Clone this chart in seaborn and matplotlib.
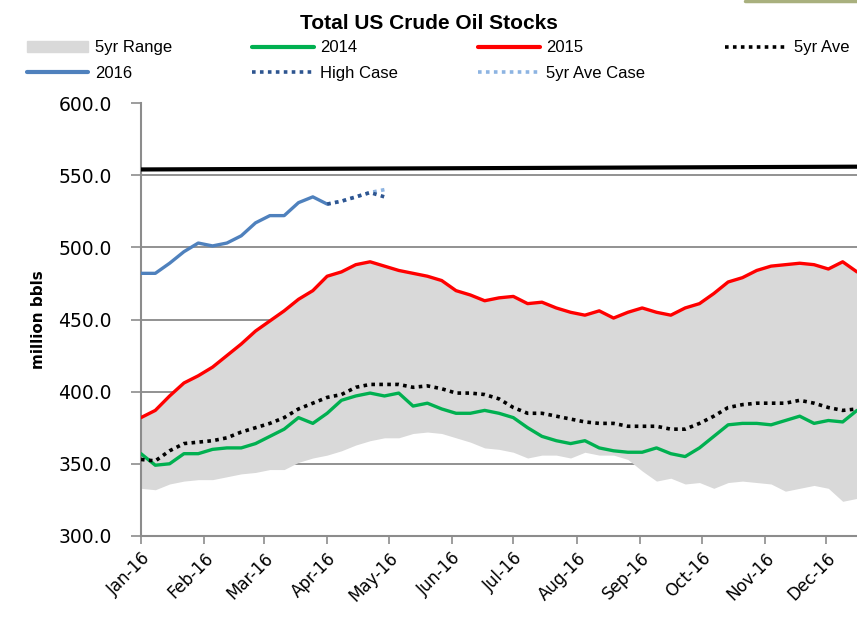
#!/usr/bin/env python3
"""Total US Crude Oil Stocks - weekly stocks vs. 5 year range."""

import pandas as pd
import matplotlib
matplotlib.use("Agg")
import matplotlib.pyplot as plt
import matplotlib.dates as mdates
from matplotlib.lines import Line2D
from matplotlib.patches import Patch
import seaborn as sns

# weekly points, million bbls
weeks = pd.date_range("2016-01-01", periods=51, freq="7D")

stocks_2015 = [382, 387, 397, 406, 411, 417, 425, 433, 442, 449, 456, 464, 470, 480, 483,
               488, 490, 487, 484, 482, 480, 477, 470, 467, 463, 465, 466, 461, 462, 458,
               455, 453, 456, 451, 455, 458, 455, 453, 458, 461, 468, 476, 479, 484, 487,
               488, 489, 488, 485, 490, 483]
stocks_2014 = [357, 349, 350, 357, 357, 360, 361, 361, 364, 369, 374, 382, 378, 385, 394,
               397, 399, 397, 399, 390, 392, 388, 385, 385, 387, 385, 382, 375, 369, 366,
               364, 366, 361, 359, 358, 358, 361, 357, 355, 361, 369, 377, 378, 378, 377,
               380, 383, 378, 380, 379, 387]
avg_5yr = [353, 352, 359, 364, 365, 366, 368, 372, 375, 378, 382, 388, 392, 396, 398,
           403, 405, 405, 405, 403, 404, 402, 399, 399, 398, 395, 389, 385, 385, 383,
           381, 379, 378, 378, 376, 376, 376, 374, 374, 378, 383, 389, 391, 392, 392,
           392, 394, 392, 389, 387, 388]
range_low = [333, 332, 336, 338, 339, 339, 341, 343, 344, 346, 346, 351, 354, 356, 359,
             363, 366, 368, 368, 371, 372, 371, 368, 365, 361, 360, 358, 354, 356, 356,
             354, 358, 356, 356, 353, 345, 338, 340, 336, 337, 333, 337, 338, 337, 336,
             331, 333, 335, 333, 324, 326]
range_high = stocks_2015  # 2015 was the 5yr max all year

stocks_2016 = [482, 482, 489, 497, 503, 501, 503, 508, 517, 522, 522, 531, 535, 530]
high_case = [530, 532, 535, 538, 535]
avg_case = [530, 532, 535, 538, 540]

capacity_dates = pd.to_datetime(["2016-01-01", "2016-07-01", "2016-12-30"])
capacity = [554, 555, 556]

weeks_2016 = weeks[:len(stocks_2016)]
weeks_case = weeks[len(stocks_2016) - 1:len(stocks_2016) - 1 + len(high_case)]

RED = "#FF0000"
GREEN = "#00B050"
BLUE = "#4F81BD"
DARK_BLUE = "#2E5590"
LIGHT_BLUE = "#8DB4E2"
GREY_FILL = "#D9D9D9"
AXIS_GREY = "#8C8C8C"
DOT = (0, (1, 1.2))

NARROW = ["Liberation Sans Narrow", "Liberation Sans", "DejaVu Sans"]


def plot_stocks():
    sns.set_style("white")
    plt.rcParams["font.family"] = ["DejaVu Sans"]
    plt.rcParams["text.color"] = "black"

    fig = plt.figure(figsize=(8.57, 6.21), dpi=100)
    ax = fig.add_axes([0.1645, 0.137, 0.8355, 0.697])

    ax.fill_between(weeks, range_low, range_high, color=GREY_FILL, lw=0, zorder=1)

    sns.lineplot(x=capacity_dates, y=capacity, ax=ax, color="black", lw=3, zorder=3)
    sns.lineplot(x=weeks, y=stocks_2015, ax=ax, color=RED, lw=2.4, zorder=4)
    sns.lineplot(x=weeks, y=stocks_2014, ax=ax, color=GREEN, lw=2.4, zorder=4)
    sns.lineplot(x=weeks, y=avg_5yr, ax=ax, color="black", lw=2.6, zorder=5, linestyle=DOT)
    sns.lineplot(x=weeks_2016, y=stocks_2016, ax=ax, color=BLUE, lw=2.4, zorder=4)
    sns.lineplot(x=weeks_case, y=avg_case, ax=ax, color=LIGHT_BLUE, lw=2.6, zorder=4,
                 linestyle=DOT)
    sns.lineplot(x=weeks_case, y=high_case, ax=ax, color=DARK_BLUE, lw=2.6, zorder=5,
                 linestyle=DOT)

    ax.set_ylim(300, 600)
    ax.set_yticks(range(300, 601, 50))
    ax.yaxis.set_major_formatter(plt.FuncFormatter(lambda v, _: f"{v:.1f}"))
    ax.set_xlim(pd.Timestamp("2016-01-01"), pd.Timestamp("2016-12-16"))
    ax.xaxis.set_major_locator(mdates.MonthLocator())
    ax.xaxis.set_major_formatter(mdates.DateFormatter("%b-%y"))

    ax.grid(axis="y", color="#7F7F7F", lw=1.2, zorder=0)
    ax.grid(axis="x", visible=False)
    ax.set_axisbelow(True)
    gl = ax.get_ygridlines()
    gl[0].set_visible(False)
    gl[-1].set_visible(False)

    for side in ("top", "right"):
        ax.spines[side].set_visible(False)
    for side in ("left", "bottom"):
        ax.spines[side].set_color(AXIS_GREY)
        ax.spines[side].set_linewidth(1.5)
    ax.tick_params(axis="both", direction="out", length=6, width=1.2, color=AXIS_GREY,
                   labelsize=13.5, labelcolor="black", left=True, bottom=True)
    ax.tick_params(axis="y", pad=14, length=7)
    for lbl in ax.get_xticklabels():
        lbl.set_rotation(45)
        lbl.set_ha("right")
        lbl.set_rotation_mode("anchor")
        lbl.set_fontsize(12)

    ax.set_xlabel("")
    ax.set_ylabel("million bbls", fontsize=11, fontweight="bold", labelpad=9,
                  color="black")

    fig.suptitle("Total US Crude Oil Stocks", x=0.5, y=0.978, fontsize=15,
                 fontweight="bold", family=NARROW, color="black")

    # legend laid out row by row (matplotlib fills columns first)
    h = {
        "5yr Range": Patch(color=GREY_FILL),
        "2014": Line2D([], [], color=GREEN, lw=3),
        "2015": Line2D([], [], color=RED, lw=3),
        "5yr Ave": Line2D([], [], color="black", lw=2.6, linestyle=DOT),
        "2016": Line2D([], [], color=BLUE, lw=3),
        "High Case": Line2D([], [], color=DARK_BLUE, lw=2.6, linestyle=DOT),
        "5yr Ave Case": Line2D([], [], color=LIGHT_BLUE, lw=2.6, linestyle=DOT),
    }
    order = ["5yr Range", "2016", "2014", "High Case", "2015", "5yr Ave Case", "5yr Ave"]
    fig.legend([h[k] for k in order], order, ncol=4, loc="upper left",
               bbox_to_anchor=(0.031, 0.935, 0.96, 0), mode="expand", frameon=False,
               prop={"family": NARROW, "size": 12}, handlelength=3.7, handletextpad=0.4,
               borderaxespad=0, borderpad=0, labelspacing=0.62, columnspacing=1.0)

    # thin border left over from the source page, top right
    fig.add_artist(Line2D([0.869, 1.0], [0.998, 0.998], transform=fig.transFigure,
                          color="#A9B07E", lw=2.5))

    fig.savefig("out.png", dpi=100)


if __name__ == "__main__":
    plot_stocks()
